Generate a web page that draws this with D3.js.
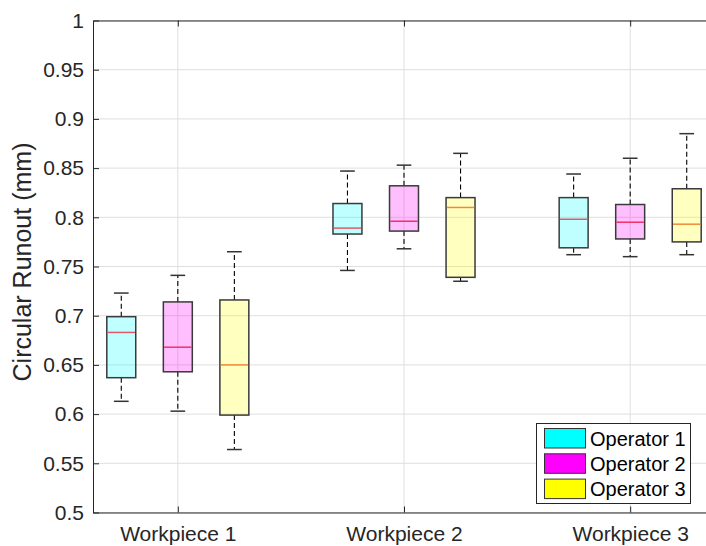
<!DOCTYPE html>
<html>
<head>
<meta charset="utf-8">
<script src="https://cdn.jsdelivr.net/npm/d3@7"></script>
<style>
  html, body { margin: 0; padding: 0; background: #fff; }
  svg { display: block; font-family: "Liberation Sans", Arial, Helvetica, sans-serif; }
</style>
</head>
<body>
<svg id="chart" width="706" height="546"></svg>
<script>
// ---- data ----
const workpieces = ["Workpiece 1", "Workpiece 2", "Workpiece 3"];
const operators = ["Operator 1", "Operator 2", "Operator 3"];
const opColors = ["#00ffff", "#ff00ff", "#ffff00"];
const medianColors = ["#e05a66", "#f2306a", "#f08a3a"];
const yTicks = [0.5, 0.55, 0.6, 0.65, 0.7, 0.75, 0.8, 0.85, 0.9, 0.95, 1];

// per operator, per workpiece
const whiskerLow = [
  [0.613, 0.746, 0.762],
  [0.603, 0.768, 0.760],
  [0.564, 0.735, 0.762]
];
const q1 = [
  [0.637, 0.783, 0.769],
  [0.643, 0.786, 0.778],
  [0.599, 0.739, 0.775]
];
const median = [
  [0.683, 0.789, 0.798],
  [0.668, 0.796, 0.795],
  [0.650, 0.810, 0.793]
];
const q3 = [
  [0.699, 0.814, 0.820],
  [0.714, 0.832, 0.813],
  [0.716, 0.820, 0.829]
];
const whiskerHigh = [
  [0.723, 0.847, 0.844],
  [0.741, 0.853, 0.860],
  [0.765, 0.865, 0.885]
];

(function () {
// ---- layout ----
const svg = d3.select("#chart");
const pl = 93, pr = 715, pt = 20.5, pb = 512.5;
const x = d3.scaleLinear().domain([0.625, 3.375]).range([pl, pr]);
const y = d3.scaleLinear().domain([0.5, 1]).range([pb, pt]);
const offsets = [-0.25, 0, 0.25];
const boxW = 0.128;
const capW = 0.065;
const axisColor = "#262626";

// grid
const grid = svg.append("g");
grid.selectAll("line.h").data(yTicks).enter().append("line")
  .attr("x1", pl).attr("x2", pr)
  .attr("y1", d => y(d)).attr("y2", d => y(d))
  .attr("stroke", "#dfdfdf").attr("stroke-width", 1);
grid.selectAll("line.v").data([1, 2, 3]).enter().append("line")
  .attr("x1", d => x(d)).attr("x2", d => x(d))
  .attr("y1", pt).attr("y2", pb)
  .attr("stroke", "#dfdfdf").attr("stroke-width", 1);

// boxes
const items = [];
operators.forEach((op, o) => {
  workpieces.forEach((wp, w) => {
    items.push({ o, w, pos: w + 1 + offsets[o],
      lo: whiskerLow[o][w], q1: q1[o][w], med: median[o][w], q3: q3[o][w], hi: whiskerHigh[o][w] });
  });
});

const g = svg.append("g");
items.forEach(d => {
  const cx = x(d.pos);
  const bw = x(d.pos + boxW / 2) - x(d.pos - boxW / 2);
  const cw = x(d.pos + capW / 2) - x(d.pos - capW / 2);
  g.append("line").attr("x1", cx).attr("x2", cx).attr("y1", y(d.q3)).attr("y2", y(d.hi))
    .attr("stroke", "#000").attr("stroke-width", 1.1).attr("stroke-dasharray", "5,3");
  g.append("line").attr("x1", cx).attr("x2", cx).attr("y1", y(d.q1)).attr("y2", y(d.lo))
    .attr("stroke", "#000").attr("stroke-width", 1.1).attr("stroke-dasharray", "5,3");
  [d.lo, d.hi].forEach(v => {
    g.append("line").attr("x1", cx - cw / 2).attr("x2", cx + cw / 2)
      .attr("y1", y(v)).attr("y2", y(v))
      .attr("stroke", "#333").attr("stroke-width", 1.5);
  });
  g.append("rect")
    .attr("x", cx - bw / 2).attr("y", y(d.q3))
    .attr("width", bw).attr("height", y(d.q1) - y(d.q3))
    .attr("fill", opColors[d.o]).attr("fill-opacity", 0.25)
    .attr("stroke", "#3a3a3a").attr("stroke-width", 1.5);
  g.append("line").attr("x1", cx - bw / 2 + 0.75).attr("x2", cx + bw / 2 - 0.75)
    .attr("y1", y(d.med)).attr("y2", y(d.med))
    .attr("stroke", medianColors[d.o]).attr("stroke-width", 1.5);
});

// axes
const yAxis = d3.axisLeft(y).tickValues(yTicks)
  .tickFormat(d => String(+d.toFixed(2)))
  .tickSizeInner(-6).tickSizeOuter(0).tickPadding(9);
const ya = svg.append("g").attr("transform", `translate(${pl},0)`).call(yAxis);
ya.select(".domain").attr("stroke", axisColor);
ya.selectAll(".tick line").attr("stroke", axisColor);
ya.selectAll(".tick text").attr("fill", axisColor).style("font-size", "21px")
  .style("font-family", "'Liberation Sans', Arial, sans-serif");

const xAxis = d3.axisBottom(x).tickValues([1, 2, 3])
  .tickFormat((d, i) => workpieces[i])
  .tickSizeInner(-6).tickSizeOuter(0).tickPadding(14);
const xa = svg.append("g").attr("transform", `translate(0,${pb})`).call(xAxis);
xa.select(".domain").attr("stroke", axisColor);
xa.selectAll(".tick line").attr("stroke", axisColor);
xa.selectAll(".tick text").attr("fill", axisColor).style("font-size", "21px")
  .style("font-family", "'Liberation Sans', Arial, sans-serif");

const xTop = d3.axisTop(x).tickValues([1, 2, 3]).tickFormat("")
  .tickSizeInner(-6).tickSizeOuter(0);
const xt = svg.append("g").attr("transform", `translate(0,${pt})`).call(xTop);
xt.select(".domain").attr("stroke", axisColor);
xt.selectAll(".tick line").attr("stroke", axisColor);

// y label
svg.append("text")
  .attr("transform", `translate(31,262) rotate(-90)`)
  .attr("text-anchor", "middle")
  .attr("fill", axisColor)
  .style("font-size", "25px")
  .text("Circular Runout (mm)");

// legend
const lg = svg.append("g");
lg.append("rect").attr("x", 536.5).attr("y", 423.5).attr("width", 154).attr("height", 80)
  .attr("fill", "#fff").attr("stroke", "#262626").attr("stroke-width", 1);
operators.forEach((op, i) => {
  const ry = 428.5 + i * 25.3;
  lg.append("rect").attr("x", 544.5).attr("y", ry).attr("width", 41).attr("height", 19.5)
    .attr("fill", opColors[i]).attr("stroke", "#333").attr("stroke-width", 1);
  lg.append("text").attr("x", 590).attr("y", ry + 10)
    .attr("dominant-baseline", "central")
    .attr("fill", "#000").style("font-size", "20px").text(op);
});
})();
</script>
</body>
</html>
